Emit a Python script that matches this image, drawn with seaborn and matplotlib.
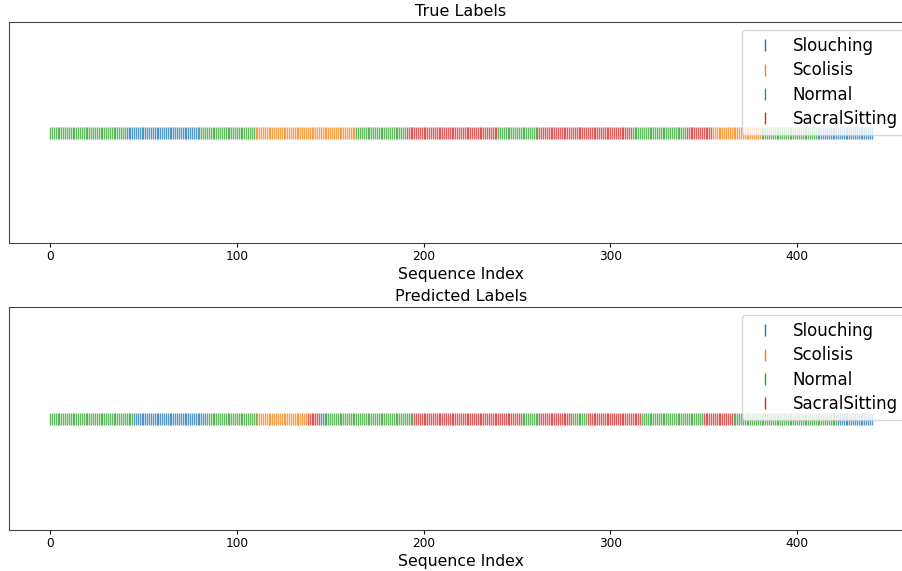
import numpy as np
import pandas as pd
import matplotlib
matplotlib.use("Agg")
import matplotlib.pyplot as plt
import seaborn as sns

# ===============================
# DATA (segments)
# ===============================

class_names = ["Slouching", "Scolisis", "Normal", "SacralSitting"]

# (label, start index, end index exclusive)
true_segments = [
    ("Normal", 0, 41),
    ("Slouching", 41, 80),
    ("Normal", 80, 110),
    ("Scolisis", 110, 164),
    ("Normal", 164, 191),
    ("SacralSitting", 191, 240),
    ("Normal", 240, 261),
    ("SacralSitting", 261, 312),
    ("Normal", 312, 341),
    ("SacralSitting", 341, 355),
    ("Scolisis", 355, 381),
    ("Normal", 381, 411),
    ("Slouching", 411, 441),
]

pred_segments = [
    ("Normal", 0, 45),
    ("Slouching", 45, 84),
    ("Normal", 84, 111),
    ("Scolisis", 111, 138),
    ("SacralSitting", 138, 145),
    ("Slouching", 145, 148),
    ("Normal", 148, 195),
    ("SacralSitting", 195, 253),
    ("Normal", 253, 262),
    ("SacralSitting", 262, 280),
    ("Normal", 280, 288),
    ("SacralSitting", 288, 317),
    ("Normal", 317, 350),
    ("SacralSitting", 350, 366),
    ("Normal", 366, 422),
    ("Slouching", 422, 441),
]


def expand(segments):
    labels = []
    for name, start, end in segments:
        labels += [name] * (end - start)
    return pd.DataFrame({"idx": np.arange(len(labels)),
                         "y": np.zeros(len(labels)),
                         "label": labels})


true_df = expand(true_segments)
pred_df = expand(pred_segments)

# ===============================
# PLOT
# ===============================

fig = plt.figure(figsize=(9.02, 5.71), dpi=100)
ax1 = fig.add_axes([0.01, 0.5744, 1.002, 0.387])
ax2 = fig.add_axes([0.01, 0.0718, 1.002, 0.3905])

for ax, data, title in [(ax1, true_df, "True Labels"), (ax2, pred_df, "Predicted Labels")]:
    sns.scatterplot(data=data, x="idx", y="y", hue="label", hue_order=class_names,
                    palette="tab10", marker="|", s=75, linewidth=1.0,
                    alpha=0.75, ax=ax)
    ax.set_title(title, fontsize=11.5, pad=4)
    ax.set_xlabel("Sequence Index", fontsize=11.3, labelpad=3)
    ax.set_ylabel("")
    ax.set_yticks([])
    ax.set_xticks([0, 100, 200, 300, 400])
    ax.tick_params(axis="x", labelsize=8.7, length=3, pad=2)
    ax.set_ylim(-0.055, 0.055)
    for sp in ax.spines.values():
        sp.set_color("#444444")
    leg = ax.legend(loc="upper right", fontsize=12, markerscale=1.0,
                    handletextpad=0.65, labelspacing=0.38)
    for h in leg.legend_handles:
        h.set_alpha(1)

fig.savefig("out.png", dpi=100)
